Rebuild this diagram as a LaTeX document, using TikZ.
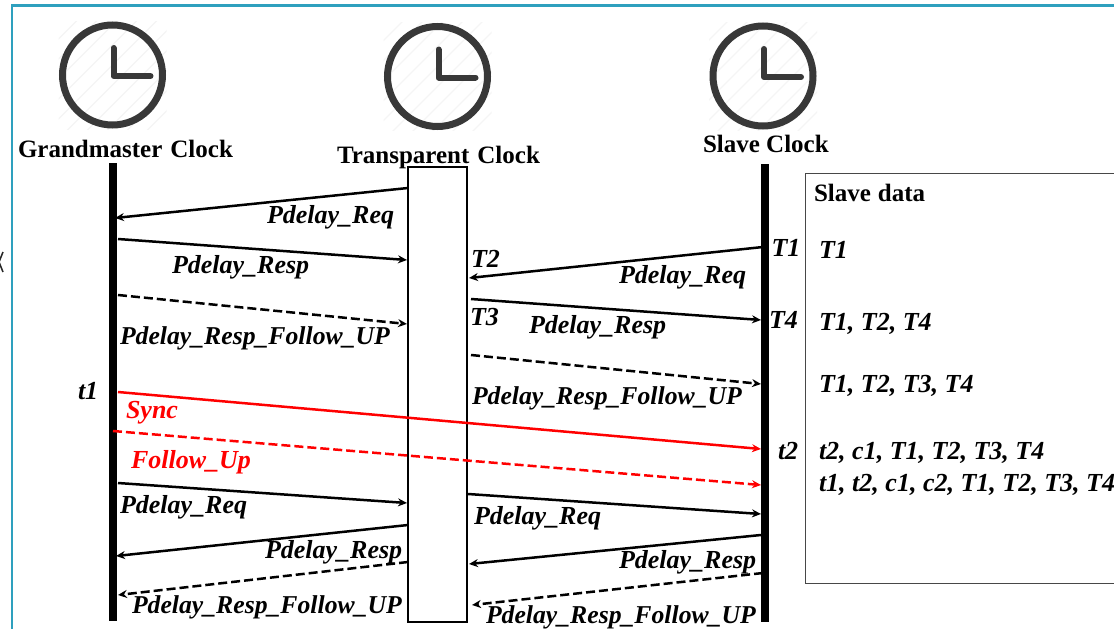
\documentclass[tikz,border=0pt]{standalone}
\usepackage{fontspec}
\setmainfont{Liberation Serif}
\usetikzlibrary{arrows.meta}
\newcommand{\PReq}{Pdelay\_Req}
\newcommand{\PResp}{Pdelay\_Resp}
\newcommand{\PFol}{Pdelay\_Resp\_Follow\_UP}
\definecolor{framecol}{RGB}{46,160,190}
\tikzset{
  x=1pt,y=-1pt,
  lab/.style={anchor=base west,yshift=-1.5pt,inner sep=0pt,outer sep=0pt,text=black,font=\fontsize{26}{30}\selectfont\bfseries\itshape},
  longlab/.style={lab,font=\fontsize{25.7}{30}\selectfont\bfseries\itshape},
  redlab/.style={lab,text=red},
  head/.style={anchor=base west,inner sep=0pt,outer sep=0pt,text=black,font=\fontsize{25}{30}\selectfont\bfseries},
  msg/.style={line width=2.5pt,draw=black,-{Stealth[length=9pt,width=8pt]}},
  dmsg/.style={msg,dash pattern=on 9pt off 4pt},
  redmsg/.style={msg,draw=red},
  dredmsg/.style={redmsg,dash pattern=on 9pt off 4pt},
  lifeline/.style={line width=7.5pt,draw=black},
  tcbox/.style={draw=black,line width=2.5pt,fill=white},
  databox/.style={draw=black!72,line width=1pt},
  hatchline/.style={draw=black!4,line width=1.2pt},
  ring/.style={draw=black!78,line width=7pt},
  hand/.style={draw=black!78,line width=6pt,line cap=round,line join=round},
  frameline/.style={draw=framecol,line width=2.2pt},
  clockface/.pic={
    \begin{scope}
      \clip (-54,-54) rectangle (54,54);
      \foreach \d in {-90,-70,...,90}{\draw[hatchline] (\d-60,60) -- (\d+60,-60);}
    \end{scope}
    \draw[ring] (0,0) circle[radius=50];
    \draw[hand] (1,-27) -- (1,1) -- (38,1);
  }
}
\begin{document}
\begin{tikzpicture}
\useasboundingbox (0,0) rectangle (1114,629);
\clip (0,0) rectangle (1114,629);
\fill[white] (0,0) rectangle (1114,629);
% frame
\coordinate (fa) at (12,629); \coordinate (fb) at (12,5.5); \coordinate (fc) at (1114,5.5);
\draw[frameline] (fa) -- (fb) -- (fc);
% clipped glyph at the left edge
\coordinate (ka) at (-1,262); \coordinate (kb) at (3,252); \coordinate (kc) at (3,272);
\draw[line width=1.5pt,draw=black!85] (kb) -- (ka) -- (kc);
% clocks
\pic at (112.5,75) {clockface};
\pic at (437.5,76.5) {clockface};
\pic at (763,76) {clockface};
% headers
\node[head] (hgm) at (18,157.5) {Grandmaster\hspace{8pt}Clock};
\node[head] (htc) at (337,163.5) {Transparent\hspace{8pt}Clock};
\node[head] (hsl) at (703,152.5) {Slave Clock};
% lifelines
\coordinate (gmtop) at (113,163); \coordinate (gmbot) at (113,621);
\coordinate (sltop) at (765,164); \coordinate (slbot) at (765,622);
\draw[lifeline] (gmtop) -- (gmbot);
\draw[lifeline] (sltop) -- (slbot);
\node[tcbox,minimum width=59pt,minimum height=455pt,inner sep=0pt] (tc) at (437.5,394.5) {};
% data box
\coordinate (da) at (1120,173); \coordinate (db) at (805,173); \coordinate (dc) at (805,583); \coordinate (dd) at (1120,583);
\draw[databox] (da) -- (db) -- (dc) -- (dd);
% messages
\coordinate (a1) at (408,188);   \coordinate (b1) at (115,218);
\coordinate (a2) at (118,239);   \coordinate (b2) at (407,260);
\coordinate (a3) at (118,295);   \coordinate (b3) at (407,324);
\coordinate (a4) at (763,247);   \coordinate (b4) at (469,278);
\coordinate (a5) at (471,299);   \coordinate (b5) at (761,320);
\coordinate (a6) at (471,355);   \coordinate (b6) at (761,384);
\coordinate (a7) at (118,392);   \coordinate (b7) at (761,449);
\coordinate (a8) at (113,431);   \coordinate (b8) at (761,485);
\coordinate (a9) at (118,483);   \coordinate (b9) at (407,503);
\coordinate (a10) at (468,494);  \coordinate (b10) at (761,514);
\coordinate (a11) at (408,525);  \coordinate (b11) at (116,556);
\coordinate (a12) at (761,535);  \coordinate (b12) at (469,564);
\coordinate (a13) at (408,562);  \coordinate (b13) at (118,595);
\coordinate (a14) at (763,573);  \coordinate (b14) at (472,605);
\draw[msg] (a1) -- (b1);
\draw[msg] (a2) -- (b2);
\draw[dmsg] (a3) -- (b3);
\draw[msg] (a4) -- (b4);
\draw[msg] (a5) -- (b5);
\draw[dmsg] (a6) -- (b6);
\draw[redmsg] (a7) -- (b7);
\draw[dredmsg] (a8) -- (b8);
\draw[msg] (a9) -- (b9);
\draw[msg] (a10) -- (b10);
\draw[msg] (a11) -- (b11);
\draw[msg] (a12) -- (b12);
\draw[dmsg] (a13) -- (b13);
\draw[dmsg] (a14) -- (b14);
% labels
\node[lab] (l1) at (267,222) {\PReq};
\node[lab] (l2) at (172,272) {\PResp};
\node[longlab] (l3) at (120,343) {\PFol};
\node[lab] (l4) at (619,282) {\PReq};
\node[lab] (l5) at (529,332) {\PResp};
\node[longlab] (l6) at (472,403) {\PFol};
\node[redlab] (l7) at (126,417) {Sync};
\node[redlab] (l8) at (131,467) {Follow\_Up};
\node[lab] (l9) at (120,512) {\PReq};
\node[lab] (l10) at (474,523) {\PReq};
\node[lab] (l11) at (265,557) {\PResp};
\node[lab] (l12) at (619,567) {\PResp};
\node[longlab] (l13) at (132,612) {\PFol};
\node[longlab] (l14) at (486,622) {\PFol};
\node[lab] (t1) at (78,398) {t1};
\node[lab] (t2) at (778,458) {t2};
\node[lab] (T1) at (771.5,255) {T1};
\node[lab] (T2) at (471,266) {T2};
\node[lab] (T3) at (470,324) {T3};
\node[lab] (T4) at (769,327) {T4};
% slave data
\node[head] (dh) at (814,201.5) {Slave\hspace{7pt}data};
\node[lab] (d1) at (819,257) {T1};
\node[lab] (d2) at (819,329) {T1, T2, T4};
\node[lab] (d3) at (819,391) {T1, T2, T3, T4};
\node[lab] (d4) at (819,458) {t2, c1, T1, T2, T3, T4};
\node[lab] (d5) at (819,490) {t1, t2, c1, c2, T1, T2, T3, T4};
\end{tikzpicture}
\end{document}
